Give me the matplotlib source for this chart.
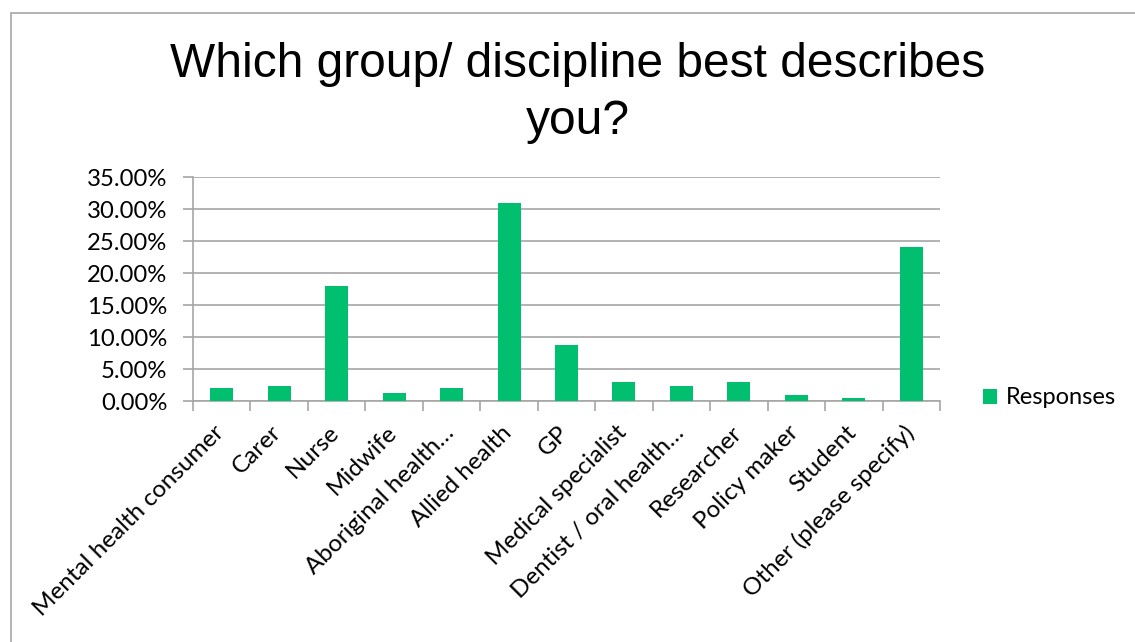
import matplotlib
matplotlib.use('Agg')
import matplotlib.pyplot as plt
from matplotlib.patches import Rectangle
from matplotlib.ticker import FuncFormatter, FixedLocator
import numpy as np

categories = ['Mental health consumer', 'Carer', 'Nurse', 'Midwife',
              'Aboriginal health…', 'Allied health', 'GP', 'Medical specialist',
              'Dentist / oral health…', 'Researcher', 'Policy maker', 'Student',
              'Other (please specify)']
responses = [2.1, 2.4, 17.9, 1.3, 2.1, 31.0, 8.8, 2.9, 2.4, 2.9, 1.0, 0.5, 24.1]

bar_color = '#00BF6F'
grid_color = '#A6A6A6'
label_font = 'Lato'

fig = plt.figure(figsize=(11.35, 6.42), dpi=100)
ax = fig.add_axes([193/1135, 1-401/642, (940-193)/1135, (401-177)/642])

x = np.arange(len(categories))
ax.bar(x, responses, width=0.4, color=bar_color, label='Responses', zorder=3)

ax.set_xlim(-0.5, len(categories) - 0.5)
ax.set_ylim(0, 35)
ax.set_yticks(np.arange(0, 36, 5))
ax.yaxis.set_major_formatter(FuncFormatter(lambda v, p: '{:.2f}%'.format(v)))
ax.grid(axis='y', color=grid_color, linewidth=1.2, zorder=0)

# category boundary ticks on x axis
ax.xaxis.set_major_locator(FixedLocator(np.arange(-0.5, len(categories), 1)))
ax.set_xticklabels([])
ax.tick_params(axis='x', length=7, color=grid_color, width=1.2)
ax.tick_params(axis='y', length=7, color=grid_color, width=1.2, labelsize=17.2, pad=11.5)
for lab in ax.get_yticklabels():
    lab.set_fontfamily(label_font)

for s in ['top', 'right']:
    ax.spines[s].set_visible(False)
for s in ['left', 'bottom']:
    ax.spines[s].set_color(grid_color)
    ax.spines[s].set_linewidth(1.2)

for i, c in enumerate(categories):
    ax.annotate(c, xy=(i, 0), xycoords=('data', 'axes fraction'),
                xytext=(-6, -15), textcoords='offset points',
                rotation=45, ha='right', va='top', rotation_mode='anchor',
                fontsize=17.5, family=label_font)

leg = fig.legend(loc='center left', bbox_to_anchor=(983/1135, 1-398/642),
                 frameon=False, prop={'family': label_font, 'size': 17},
                 handlelength=0.6, handleheight=0.6, handletextpad=0.35,
                 borderpad=0, borderaxespad=0)

fig.text(578/1135, 1-93/642, 'Which group/ discipline best describes\nyou?',
         ha='center', va='center', fontsize=34.5, family='Liberation Sans',
         linespacing=1.32)

fig.patches.append(Rectangle((11/1135, -0.1), 1.2, 1 - 12.5/642 + 0.1,
                             transform=fig.transFigure, fill=False,
                             edgecolor='#A6A6A6', linewidth=1.2))

fig.savefig('out.png', dpi=100)
